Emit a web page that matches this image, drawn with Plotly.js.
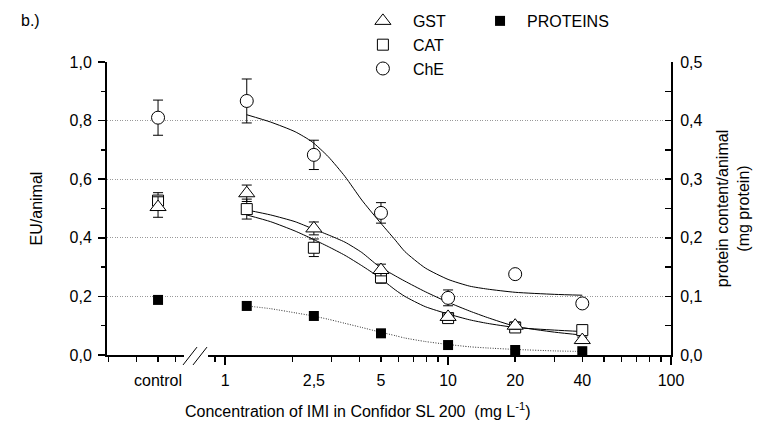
<!DOCTYPE html>
<html>
<head>
<meta charset="utf-8">
<script src="https://cdn.plot.ly/plotly-3.0.1.min.js"></script>
<style>html,body{margin:0;padding:0;background:#fff;}#chart{width:757px;height:428px;}</style>
</head>
<body>
<div id="chart"></div>
<script>
// Dose positions on the log axis; 0.5 stands for the "control" group (left of the axis break)
var DOSE = [0.5, 1.25, 2.5, 5, 10, 20, 40];

// Enzyme activities (EU/animal) and their error bars
var GST = [0.505, 0.552, 0.432, 0.29, 0.13, 0.10, 0.051];
var GST_ERR = [0.035, 0.028, 0.022, 0.02, 0.01, 0.012, 0.01];
var CAT = [0.527, 0.498, 0.366, 0.265, 0.126, 0.094, 0.085];
var CAT_ERR = [0.027, 0.034, 0.03, 0.02, 0.012, 0.01, 0.01];
var CHE = [0.81, 0.867, 0.683, 0.485, 0.195, 0.276, 0.176];
var CHE_ERR = [0.06, 0.075, 0.05, 0.035, 0.027, 0.012, 0.012];

// Protein content (mg protein / animal), right axis
var PROTEINS = [0.094, 0.0837, 0.0666, 0.037, 0.017, 0.0085, 0.0065];

// Fitted curves
var FIT_X = [1.25, 1.6, 2.06, 2.45, 2.9, 3.45, 4.1, 4.85, 5.8, 6.4, 7.9, 10, 12.5, 15, 20, 30, 40];
var CHE_FIT = [0.82, 0.795, 0.762, 0.728, 0.677, 0.609, 0.529, 0.461, 0.392, 0.353, 0.297, 0.258, 0.235, 0.225, 0.214, 0.207, 0.204];
var GST_FIT = [0.495, 0.478, 0.455, 0.432, 0.41, 0.385, 0.35, 0.305, 0.27, 0.252, 0.216, 0.18, 0.15, 0.128, 0.098, 0.078, 0.068];
var CAT_FIT = [0.478, 0.455, 0.423, 0.397, 0.37, 0.34, 0.305, 0.268, 0.222, 0.2, 0.165, 0.14, 0.12, 0.108, 0.094, 0.085, 0.08];
var PROT_FIT = [0.0837, 0.079, 0.072, 0.067, 0.061, 0.054, 0.047, 0.040, 0.033, 0.029, 0.023, 0.018, 0.014, 0.012, 0.0095, 0.007, 0.006];

// Axis labels
var X_TICKVALS = [0.5, 1, 2.5, 5, 10, 20, 40, 100];
var X_TICKTEXT = ['control', '1', '2,5', '5', '10', '20', '40', '100'];
var X_MINOR = [0.3, 0.4, 0.5, 0.6, 0.7, 0.8, 0.9, 2, 3, 4, 5, 6, 7, 8, 9, 20, 30, 40, 50, 60, 70, 80, 90];
var X_MAJOR = [1, 10, 100];
var Y_GRID = [0.2, 0.4, 0.6, 0.8];
var X_TITLE = 'Concentration of IMI in Confidor SL 200  (mg L<sup>-1</sup>)';

var FONT = 'Liberation Sans, Arial, sans-serif';
var XR = [-0.53, 2];

function errBar(arr) {
  return {type: 'data', array: arr, visible: true, color: '#000', thickness: 1, width: 5};
}
function fit(y, axis, dash) {
  return {x: FIT_X, y: y, yaxis: axis, mode: 'lines', line: {color: dash ? '#333' : '#000', width: 1, dash: dash ? '1px,1.5px' : 'solid', shape: 'spline', smoothing: 0.6}, showlegend: false, hoverinfo: 'skip'};
}

var traces = [
  fit(CHE_FIT, 'y'), fit(GST_FIT, 'y'), fit(CAT_FIT, 'y'), fit(PROT_FIT, 'y2', true),
  {x: DOSE, y: PROTEINS, yaxis: 'y2', mode: 'markers', name: 'PROTEINS', legend: 'legend2',
   marker: {symbol: 'square', size: 10, color: '#000'}},
  {x: DOSE, y: CHE, mode: 'markers', name: 'ChE', legendgroup: 'c', legendrank: 3, error_y: errBar(CHE_ERR),
   marker: {symbol: 'circle', size: 13, color: '#fff', line: {color: '#000', width: 1}}},
  {x: DOSE, y: CAT, mode: 'markers', name: 'CAT', legendgroup: 'b', legendrank: 2, error_y: errBar(CAT_ERR),
   marker: {symbol: 'square', size: 11, color: '#fff', line: {color: '#000', width: 1}}},
  {x: DOSE, y: GST, mode: 'markers', name: 'GST', legendgroup: 'a', legendrank: 1, error_y: errBar(GST_ERR),
   marker: {symbol: 'triangle-up', size: 14, color: '#fff', line: {color: '#000', width: 1}}},
  // helpers so the overlay axes get drawn
  {x: [1], y: [0], xaxis: 'x2', mode: 'markers', marker: {opacity: 0}, showlegend: false, hoverinfo: 'skip'},
  {x: [1], y: [0], yaxis: 'y3', mode: 'markers', marker: {opacity: 0}, showlegend: false, hoverinfo: 'skip'}
];

var layout = {
  width: 757, height: 428,
  margin: {l: 107, r: 86, t: 62, b: 73, autoexpand: false},
  paper_bgcolor: '#fff', plot_bgcolor: 'rgba(0,0,0,0)',
  separators: ', ',
  font: {family: FONT, size: 16, color: '#000'},
  xaxis: {
    type: 'log', range: XR, showgrid: false, zeroline: false,
    showline: true, linecolor: '#000', linewidth: 2,
    tickmode: 'array', tickvals: X_TICKVALS, ticktext: X_TICKTEXT, ticks: '',
    ticklabelstandoff: 10,
    tickfont: {family: FONT, size: 16, color: '#000'},
    minor: {tickmode: 'array', tickvals: X_MINOR, ticks: 'outside', ticklen: 5, tickwidth: 1.5, tickcolor: '#000', showgrid: false}
  },
  xaxis2: {
    type: 'log', range: XR, overlaying: 'x', anchor: 'y', side: 'bottom',
    showgrid: false, zeroline: false, showline: false, showticklabels: false,
    tickmode: 'array', tickvals: X_MAJOR, ticks: 'outside', ticklen: 9, tickwidth: 1.5, tickcolor: '#000'
  },
  yaxis: {
    range: [0, 1], showgrid: false, zeroline: false,
    showline: true, linecolor: '#000', linewidth: 2,
    tickmode: 'array', tickvals: [0, 0.2, 0.4, 0.6, 0.8, 1.0], tickformat: '.1f',
    ticks: 'outside', ticklen: 7, tickwidth: 1.5, tickcolor: '#000', ticklabelstandoff: 3,
    minor: {dtick: 0.1, ticks: 'outside', ticklen: 4, tickwidth: 1.5, tickcolor: '#000', showgrid: false},
    tickfont: {family: FONT, size: 16, color: '#000'},
    title: {text: 'EU/animal', font: {family: FONT, size: 16}, standoff: 23}
  },
  yaxis2: {
    range: [0, 0.5], overlaying: 'y', side: 'right', anchor: 'x',
    showgrid: false, zeroline: false,
    showline: true, linecolor: '#000', linewidth: 2,
    tickmode: 'array', tickvals: [0, 0.1, 0.2, 0.3, 0.4, 0.5], tickformat: '.1f',
    ticks: 'inside', ticklen: 6, tickwidth: 1.5, tickcolor: '#000', ticklabelstandoff: 4,
    minor: {dtick: 0.05, ticks: 'inside', ticklen: 6, tickwidth: 1.5, tickcolor: '#000', showgrid: false},
    tickfont: {family: FONT, size: 16, color: '#000'},
    title: {text: 'protein content/animal<br>(mg protein)', font: {family: FONT, size: 16}, standoff: 15}
  },
  yaxis3: {
    range: [0, 1], overlaying: 'y', anchor: 'x', side: 'left',
    showline: false, zeroline: false, showticklabels: false, ticks: '',
    tickmode: 'array', tickvals: Y_GRID,
    showgrid: true, gridcolor: '#999', griddash: '1px,1.5px', gridwidth: 1
  },
  legend: {
    x: 0.436, y: 1.198, xanchor: 'left', yanchor: 'top',
    traceorder: 'grouped', tracegroupgap: 0, bgcolor: 'rgba(0,0,0,0)',
    font: {family: FONT, size: 16, color: '#000'}, itemwidth: 50
  },
  legend2: {
    x: 0.649, y: 1.198, xanchor: 'left', yanchor: 'top', bgcolor: 'rgba(0,0,0,0)',
    font: {family: FONT, size: 16, color: '#000'}, itemwidth: 44
  },
  annotations: [
    {text: 'b.)', xref: 'paper', yref: 'paper', x: -0.156, y: 1.143, xanchor: 'left', yanchor: 'middle', showarrow: false, font: {family: FONT, size: 16}},
    {text: X_TITLE, xref: 'paper', yref: 'paper', x: 0.445, y: -0.188, xanchor: 'center', yanchor: 'middle', showarrow: false, font: {family: FONT, size: 16}}
  ],
  shapes: [
    {type: 'rect', xref: 'paper', yref: 'paper', x0: 0.1365, x1: 0.1791, y0: -0.035, y1: 0.012, fillcolor: '#fff', line: {width: 0}, layer: 'above'},
    {type: 'line', xref: 'paper', yref: 'paper', x0: 0.1348, y0: -0.034, x1: 0.1596, y1: 0.027, line: {color: '#000', width: 1}, layer: 'above'},
    {type: 'line', xref: 'paper', yref: 'paper', x0: 0.1525, y0: -0.034, x1: 0.1773, y1: 0.027, line: {color: '#000', width: 1}, layer: 'above'}
  ]
};

Plotly.newPlot('chart', traces, layout, {displayModeBar: false, staticPlot: true});
</script>
</body>
</html>
